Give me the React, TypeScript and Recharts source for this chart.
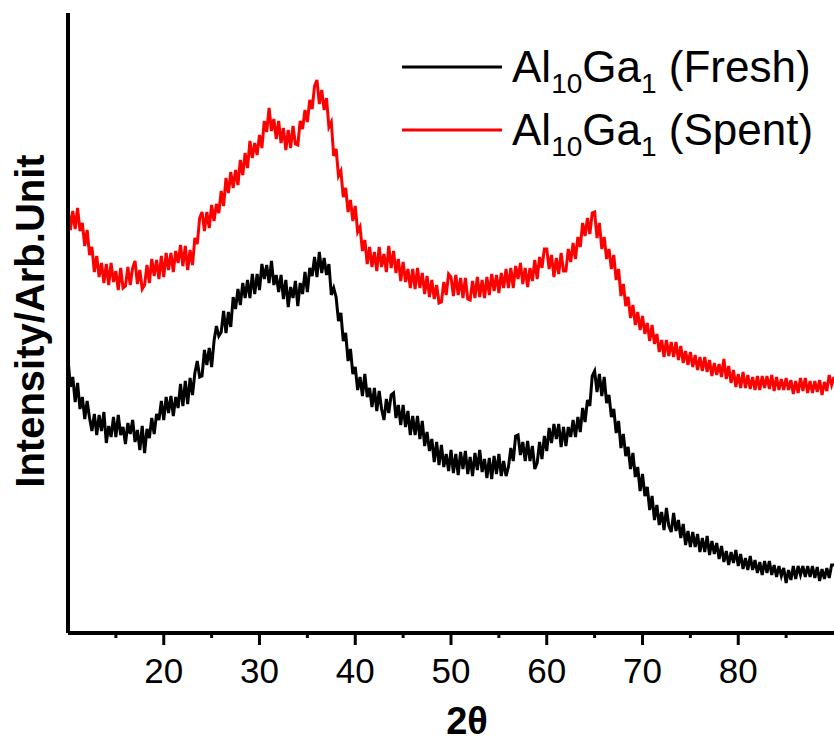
import { LineChart, Line, XAxis, YAxis } from 'recharts';

// XRD scans, 2θ from 10° to 90° in 0.25° steps, intensity in arbitrary units
const SCAN_START = 10;
const SCAN_STEP = 0.25;

const freshCounts = [
  275, 246, 256, 231, 250, 224, 236, 214,
  232, 215, 202, 219, 198, 218, 202, 221,
  190, 207, 196, 216, 196, 218, 198, 206,
  189, 210, 199, 213, 191, 203, 183, 207,
  180, 204, 195, 215, 199, 219, 213, 232,
  213, 236, 220, 237, 217, 236, 225, 249,
  227, 252, 229, 255, 238, 260, 272, 256,
  257, 283, 268, 285, 266, 292, 307, 297,
  301, 322, 300, 321, 306, 336, 324, 344,
  328, 350, 335, 353, 335, 359, 339, 359,
  343, 369, 354, 368, 350, 372, 348, 358,
  341, 358, 334, 353, 326, 346, 335, 352,
  327, 350, 339, 361, 341, 365, 357, 376,
  356, 381, 360, 375, 358, 369, 338, 345,
  336, 312, 320, 292, 300, 272, 284, 259,
  266, 243, 256, 237, 259, 236, 245, 226,
  245, 222, 242, 224, 213, 234, 220, 238,
  240, 215, 228, 208, 228, 206, 222, 198,
  217, 198, 217, 194, 212, 187, 201, 182,
  194, 171, 191, 168, 188, 166, 179, 162,
  183, 160, 179, 158, 181, 164, 182, 159,
  176, 157, 180, 163, 183, 161, 174, 155,
  175, 154, 177, 159, 179, 157, 172, 157,
  166, 185, 172, 197, 198, 178, 191, 172,
  192, 172, 187, 164, 170, 191, 174, 197,
  182, 205, 190, 209, 194, 209, 186, 206,
  187, 206, 196, 213, 196, 216, 201, 225,
  211, 233, 227, 257, 262, 241, 259, 237,
  256, 230, 238, 216, 224, 200, 212, 185,
  199, 177, 186, 164, 180, 156, 166, 142,
  159, 137, 146, 123, 137, 113, 128, 108,
  121, 103, 125, 107, 101, 120, 102, 113,
  95, 109, 88, 102, 86, 101, 86, 99,
  81, 95, 81, 97, 78, 92, 79, 90,
  74, 87, 71, 82, 68, 81, 70, 83,
  67, 79, 64, 75, 63, 77, 63, 73,
  60, 71, 58, 72, 60, 72, 58, 68,
  56, 67, 57, 65, 50, 63, 53, 67,
  54, 67, 58, 67, 56, 67, 56, 67,
  55, 66, 52, 64, 54, 65, 55, 68,
  68,
];

const spentCounts = [
  426, 403, 422, 404, 425, 402, 410, 387,
  403, 378, 386, 361, 377, 356, 370, 350,
  369, 348, 370, 351, 362, 343, 365, 345,
  347, 366, 348, 365, 372, 349, 363, 344,
  348, 368, 350, 374, 357, 373, 354, 377,
  356, 380, 363, 380, 361, 382, 370, 388,
  367, 387, 363, 383, 368, 395, 389, 415,
  421, 402, 421, 405, 428, 412, 429, 420,
  442, 427, 455, 440, 461, 445, 463, 448,
  473, 458, 480, 465, 492, 475, 490, 478,
  498, 485, 512, 501, 525, 502, 514, 494,
  512, 490, 505, 483, 503, 485, 507, 489,
  488, 512, 504, 523, 511, 533, 524, 547,
  553, 529, 543, 523, 535, 506, 511, 477,
  484, 457, 462, 436, 445, 421, 433, 412,
  427, 401, 406, 382, 393, 369, 386, 366,
  381, 362, 386, 366, 379, 361, 387, 365,
  382, 360, 374, 352, 371, 351, 364, 345,
  364, 344, 365, 345, 360, 339, 357, 336,
  353, 334, 348, 330, 331, 351, 338, 359,
  356, 337, 358, 338, 355, 335, 355, 334,
  333, 352, 335, 356, 336, 353, 335, 356,
  338, 359, 342, 358, 340, 360, 345, 364,
  345, 365, 345, 367, 354, 370, 349, 365,
  346, 365, 352, 373, 354, 376, 365, 384,
  384, 364, 378, 356, 375, 359, 380, 362,
  362, 384, 371, 390, 374, 396, 386, 410,
  397, 415, 399, 420, 421, 395, 410, 384,
  396, 374, 384, 364, 378, 353, 364, 337,
  349, 327, 336, 315, 328, 308, 321, 303,
  317, 299, 310, 292, 308, 289, 299, 281,
  293, 276, 293, 277, 291, 276, 291, 273,
  287, 270, 282, 268, 281, 266, 278, 263,
  276, 262, 276, 261, 273, 257, 270, 258,
  269, 256, 274, 254, 267, 250, 263, 246,
  259, 245, 261, 245, 258, 244, 256, 243,
  257, 243, 257, 245, 257, 244, 258, 242,
  256, 243, 254, 243, 255, 243, 253, 239,
  252, 240, 255, 242, 255, 240, 252, 240,
  252, 241, 253, 238, 251, 242, 258, 248,
  256,
];

const angleTicks = [15, 20, 25, 30, 35, 40, 45, 50, 55, 60, 65, 70, 75, 80, 85];

const SERIES = [
  { key: 'fresh', color: '#000000' },
  { key: 'spent', color: '#ff0000' },
];

const FONT = "'Liberation Sans', Arial, sans-serif";

const rows = freshCounts.map((fresh, i) => ({
  angle: SCAN_START + i * SCAN_STEP,
  fresh,
  spent: spentCounts[i],
}));

// major ticks every 10° carry a label, minor ones at the 5° marks are short
const AngleTick = ({ x, y, payload }: any) => {
  const major = payload.value % 10 === 0;
  return (
    <g>
      <line x1={x} x2={x} y1={y} y2={y + (major ? 12 : 5)} stroke="#000" strokeWidth={3} />
      {major && (
        <text x={x} y={y + 50} textAnchor="middle" fontSize={35} fontFamily={FONT} fill="#000">
          {payload.value}
        </text>
      )}
    </g>
  );
};

function LegendRow({ y, color, label }: { y: number; color: string; label: string }) {
  return (
    <g>
      <line x1={402} x2={502} y1={y} y2={y} stroke={color} strokeWidth={3} />
      <text x={512} y={y + 15} fontSize={44} fontFamily={FONT} fill="#000">
        Al<tspan fontSize={28} dy={11}>10</tspan>
        <tspan dy={-11}>Ga</tspan>
        <tspan fontSize={28} dy={11}>1</tspan>
        <tspan dy={-11}>{` ${label}`}</tspan>
      </text>
    </g>
  );
}

export default function App() {
  return (
    <div style={{ position: 'relative', width: 834, height: 744, background: '#fff' }}>
      <style>{'body{margin:0}'}</style>
      <LineChart width={834} height={744} data={rows} margin={{ top: 13, right: 0, bottom: 0, left: 64 }}>
        <XAxis
          dataKey="angle"
          type="number"
          domain={[10, 90]}
          ticks={angleTicks}
          interval={0}
          height={111}
          tickSize={0}
          tickMargin={0}
          tickLine={false}
          axisLine={{ stroke: '#000', strokeWidth: 4 }}
          tick={<AngleTick />}
          label={{
            content: () => (
              <text x={467} y={734} textAnchor="middle" fontSize={38} fontWeight="bold" fontFamily={FONT} fill="#000">
                2θ
              </text>
            ),
          }}
        />
        <YAxis
          type="number"
          domain={[0, 620]}
          width={4}
          tick={false}
          tickLine={false}
          axisLine={{ stroke: '#000', strokeWidth: 4 }}
          label={{
            content: () => (
              <text
                transform="translate(44,321) rotate(-90)"
                textAnchor="middle"
                fontSize={40}
                fontWeight="bold"
                fontFamily={FONT}
                fill="#000"
              >
                Intensity/Arb.Unit
              </text>
            ),
          }}
        />
        {SERIES.map((s) => (
          <Line
            key={s.key}
            dataKey={s.key}
            type="linear"
            stroke={s.color}
            strokeWidth={3}
            dot={false}
            activeDot={false}
            isAnimationActive={false}
          />
        ))}
      </LineChart>
      <svg width={834} height={170} style={{ position: 'absolute', left: 0, top: 0 }}>
        <LegendRow y={67} color="#000000" label="(Fresh)" />
        <LegendRow y={130} color="#ff0000" label="(Spent)" />
      </svg>
    </div>
  );
}
